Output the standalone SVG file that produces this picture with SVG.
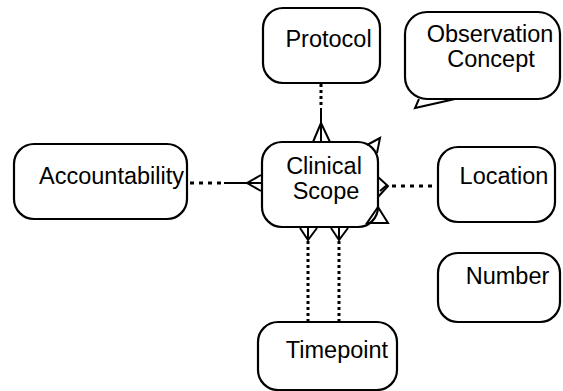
<svg xmlns="http://www.w3.org/2000/svg" width="563" height="391" viewBox="0 0 563 391">
<style>
.box{fill:#fff;stroke:#000;stroke-width:2.2}
.t{font-family:"Liberation Sans",Arial,sans-serif;font-size:23.5px;fill:#000;text-anchor:middle}
.dot{stroke:#000;stroke-width:3;stroke-dasharray:3 3;fill:none}
.hdot{stroke:#000;stroke-width:3;stroke-dasharray:4 5;fill:none}
.ln{stroke:#000;stroke-width:2;fill:none}
</style>
<rect width="563" height="391" fill="#fff"/>
<g id="connectors">
<line class="dot" x1="321" y1="84" x2="321" y2="108"/>
<line class="ln" x1="321" y1="108" x2="321" y2="142"/>
<polyline class="ln" points="313,142 321,123 330,142"/>
<line class="hdot" x1="190" y1="183" x2="224" y2="183"/>
<line class="ln" x1="224" y1="183" x2="262" y2="183"/>
<polyline class="ln" points="261,175 247,183 261,191"/>
<line class="hdot" x1="392" y1="186" x2="438" y2="186"/>
<polyline class="ln" points="378,177 388,186 378,197"/>
<line class="ln" x1="380" y1="191" x2="387" y2="185"/>
<line class="dot" x1="308" y1="241" x2="308" y2="322"/>
<polyline class="ln" points="300,228 308,240 317,228"/>
<line class="ln" x1="308" y1="228" x2="308" y2="240"/>
<line class="dot" x1="339" y1="241" x2="339" y2="322"/>
<polyline class="ln" points="331,228 339,240 348,228"/>
<line class="ln" x1="339" y1="228" x2="339" y2="240"/>
</g>
<g id="protocol"><rect class="box" x="263" y="8" width="117" height="75" rx="20"/><text class="t" x="328.5" y="47">Protocol</text></g>
<g id="observation-concept"><rect class="box" x="405" y="12" width="155" height="87" rx="22"/><polyline class="ln" points="419,99 415,108 455,99"/><text class="t" x="490" y="42">Observation</text><text class="t" x="491" y="67">Concept</text></g>
<g id="accountability"><rect class="box" x="14" y="144" width="173" height="75" rx="20"/><text class="t" x="111.5" y="184">Accountability</text></g>
<g id="clinical-scope"><rect class="box" x="262" y="142" width="116" height="85" rx="20"/><text class="t" x="324" y="174">Clinical</text><text class="t" x="326" y="199">Scope</text>
<polyline class="ln" points="367,145 380,138 377,153"/>
<polygon class="ln" points="378,207 367,223 388,223"/></g>
<g id="location"><rect class="box" x="438" y="147" width="117" height="75" rx="20"/><text class="t" x="504" y="184">Location</text></g>
<g id="number"><rect class="box" x="438" y="253" width="122" height="69" rx="20"/><text class="t" x="507.5" y="284">Number</text></g>
<g id="timepoint"><rect class="box" x="258" y="322" width="139" height="68" rx="20"/><text class="t" x="337" y="358">Timepoint</text></g>
</svg>
